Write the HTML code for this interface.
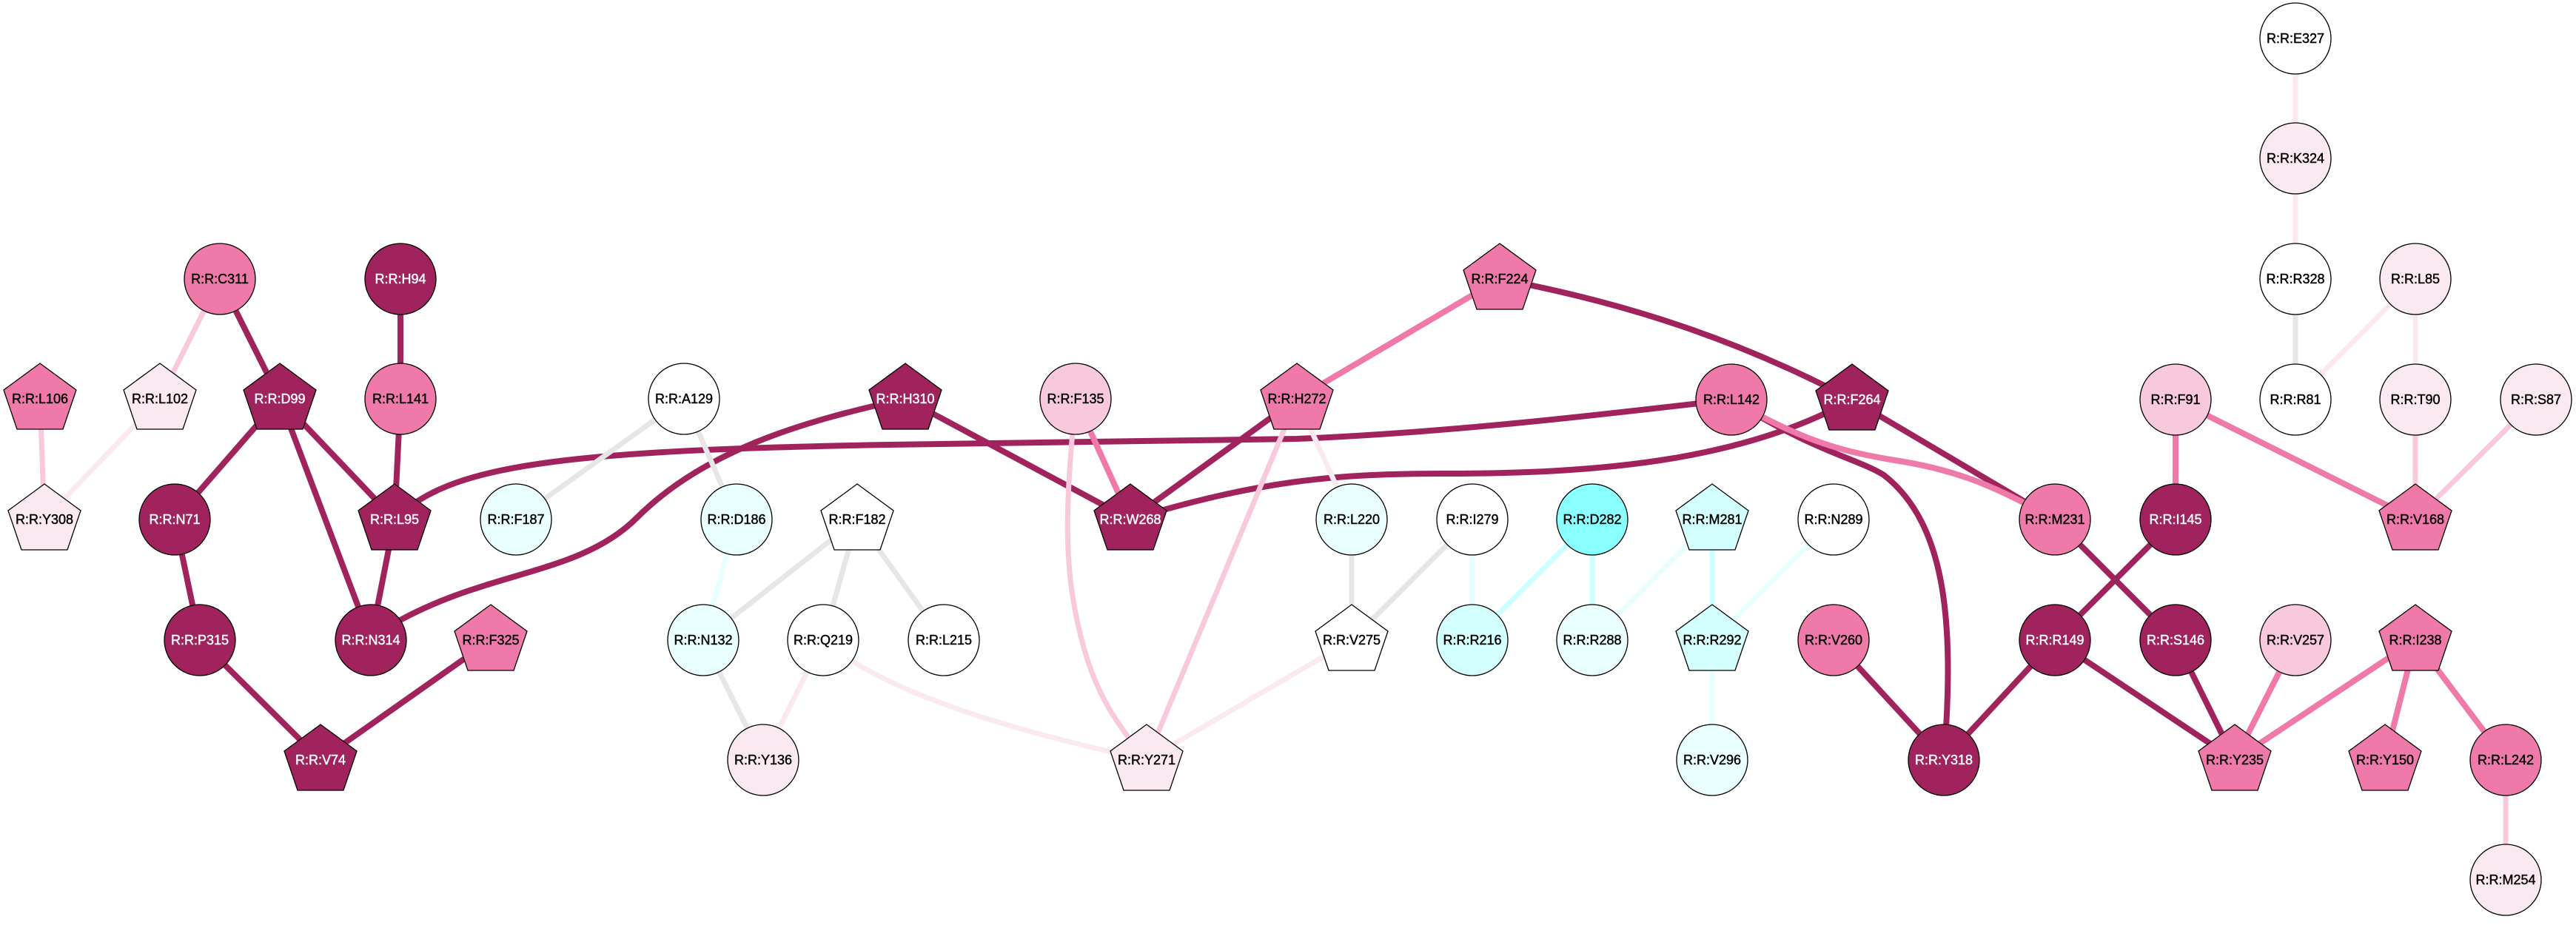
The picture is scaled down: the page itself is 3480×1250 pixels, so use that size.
<!DOCTYPE html>
<html><head><meta charset="utf-8"><style>
html,body{margin:0;padding:0;background:#fff;}
svg text{font-family:"Liberation Sans",Arial,sans-serif;font-size:18px;text-anchor:middle;dominant-baseline:central;stroke-width:0.45px;}
</style></head><body>
<svg width="3480" height="1245" viewBox="0 0 3480 1245" xmlns="http://www.w3.org/2000/svg">
<g fill="none" stroke-linecap="butt">
<g stroke="#A0235E" stroke-width="8">
<line x1="297" y1="377" x2="378" y2="539"/>
<line x1="541" y1="377" x2="541" y2="539"/>
<line x1="541" y1="539" x2="533" y2="702"/>
<line x1="378" y1="539" x2="236" y2="702"/>
<line x1="378" y1="539" x2="501" y2="865"/>
<line x1="378" y1="539" x2="533" y2="702"/>
<line x1="236" y1="702" x2="270" y2="865"/>
<line x1="533" y1="702" x2="501" y2="865"/>
<line x1="270" y1="865" x2="433" y2="1027"/>
<line x1="663" y1="865" x2="433" y2="1027"/>
<line x1="1223" y1="539" x2="1527" y2="702"/>
<line x1="1752" y1="539" x2="1527" y2="702"/>
<line x1="2502" y1="540" x2="2776" y2="702"/>
<line x1="2626" y1="1027" x2="2477" y2="865"/>
<line x1="2626" y1="1027" x2="2776" y2="865"/>
<line x1="2776" y1="865" x2="2939" y2="702"/>
<line x1="2776" y1="865" x2="3019" y2="1027"/>
<line x1="2776" y1="702" x2="2939" y2="865"/>
<line x1="2939" y1="865" x2="3019" y2="1027"/>
<path d="M 560,680 C 640,625 800,608 1200,601 L 1752,593 C 1950,585 2150,562 2339,540"/>
<path d="M 520,850 C 650,770 780,780 860,700 C 950,610 1080,570 1223,539"/>
<path d="M 2026,377 C 2200,410 2350,460 2502,540"/>
<path d="M 1527,702 C 1700,650 1800,640 1950,640 C 2150,640 2350,625 2502,540"/>
<path d="M 2339,540 C 2450,610 2510,620 2545,642 C 2632,710 2640,850 2626,1027"/>
</g>
<g stroke="#EF7AA9" stroke-width="8">
<line x1="1453" y1="539" x2="1527" y2="702"/>
<line x1="1752" y1="539" x2="2026" y2="377"/>
<line x1="2939" y1="540" x2="2939" y2="702"/>
<line x1="2939" y1="540" x2="3263" y2="702"/>
<line x1="3101" y1="865" x2="3019" y2="1027"/>
<line x1="3263" y1="865" x2="3019" y2="1027"/>
<line x1="3263" y1="865" x2="3222" y2="1027"/>
<line x1="3263" y1="865" x2="3385" y2="1027"/>
<path d="M 2339,540 C 2440,600 2500,612 2560,622 C 2650,636 2700,660 2776,702"/>
</g>
<g stroke="#F8C8DC" stroke-width="7">
<line x1="54" y1="539" x2="60" y2="702"/>
<line x1="297" y1="377" x2="216" y2="539"/>
<line x1="1752" y1="539" x2="1549" y2="1027"/>
<line x1="3263" y1="540" x2="3263" y2="702"/>
<line x1="3426" y1="540" x2="3263" y2="702"/>
<line x1="3385" y1="1027" x2="3385" y2="1189"/>
<path d="M 1453,539 C 1440,680 1435,760 1460,860 C 1480,940 1510,980 1549,1027"/>
</g>
<g stroke="#FBE9F1" stroke-width="7">
<line x1="216" y1="539" x2="60" y2="702"/>
<line x1="1752" y1="539" x2="1826" y2="702"/>
<line x1="1826" y1="865" x2="1549" y2="1027"/>
<line x1="1112" y1="865" x2="1031" y2="1027"/>
<line x1="3263" y1="377" x2="3263" y2="540"/>
<line x1="3263" y1="377" x2="3101" y2="540"/>
<line x1="3101" y1="214" x2="3101" y2="377"/>
<line x1="3101" y1="52" x2="3101" y2="214"/>
<path d="M 1112,865 C 1200,940 1380,990 1549,1027"/>
</g>
<g stroke="#E6E6E6" stroke-width="7">
<line x1="924" y1="539" x2="697" y2="702"/>
<line x1="924" y1="539" x2="995" y2="702"/>
<line x1="1158" y1="702" x2="950" y2="865"/>
<line x1="1158" y1="702" x2="1112" y2="865"/>
<line x1="1158" y1="702" x2="1275" y2="865"/>
<line x1="950" y1="865" x2="1031" y2="1027"/>
<line x1="1826" y1="702" x2="1826" y2="865"/>
<line x1="1989" y1="702" x2="1826" y2="865"/>
<line x1="3101" y1="377" x2="3101" y2="540"/>
</g>
<g stroke="#CCFFFF" stroke-width="7">
<line x1="2151" y1="702" x2="1989" y2="865"/>
<line x1="2151" y1="702" x2="2151" y2="865"/>
<line x1="2313" y1="702" x2="2313" y2="865"/>
</g>
<g stroke="#E8FFFF" stroke-width="7">
<line x1="995" y1="702" x2="950" y2="865"/>
<line x1="1989" y1="702" x2="1989" y2="865"/>
<line x1="2313" y1="702" x2="2151" y2="865"/>
<line x1="2477" y1="702" x2="2313" y2="865"/>
<line x1="2313" y1="865" x2="2313" y2="1027"/>
</g>
</g>
<defs>
<polygon id="pg" points="0,-48 49,-12 31,41 -31,41 -49,-12"/>
</defs>
<g stroke="#000" stroke-width="1.3">
<use href="#pg" x="54" y="539" fill="#EF7AA9"/>
<use href="#pg" x="216" y="539" fill="#FBE9F1"/>
<use href="#pg" x="60" y="702" fill="#FBE9F1"/>
<use href="#pg" x="378" y="539" fill="#A0235E"/>
<use href="#pg" x="533" y="702" fill="#A0235E"/>
<use href="#pg" x="433" y="1027" fill="#A0235E"/>
<use href="#pg" x="663" y="865" fill="#EF7AA9"/>
<use href="#pg" x="1223" y="539" fill="#A0235E"/>
<use href="#pg" x="1158" y="702" fill="#FFFFFF"/>
<use href="#pg" x="1527" y="702" fill="#A0235E"/>
<use href="#pg" x="1752" y="539" fill="#EF7AA9"/>
<use href="#pg" x="2026" y="377" fill="#EF7AA9"/>
<use href="#pg" x="1549" y="1027" fill="#FBE9F1"/>
<use href="#pg" x="1826" y="865" fill="#FFFFFF"/>
<use href="#pg" x="2313" y="702" fill="#D4FFFF"/>
<use href="#pg" x="2313" y="865" fill="#D4FFFF"/>
<use href="#pg" x="2502" y="540" fill="#A0235E"/>
<use href="#pg" x="3263" y="702" fill="#EF7AA9"/>
<use href="#pg" x="3019" y="1027" fill="#EF7AA9"/>
<use href="#pg" x="3263" y="865" fill="#EF7AA9"/>
<use href="#pg" x="3222" y="1027" fill="#EF7AA9"/>
<circle cx="297" cy="377" r="48" fill="#EF7AA9"/>
<circle cx="541" cy="377" r="48" fill="#A0235E"/>
<circle cx="541" cy="539" r="48" fill="#EF7AA9"/>
<circle cx="924" cy="539" r="48" fill="#FFFFFF"/>
<circle cx="236" cy="702" r="48" fill="#A0235E"/>
<circle cx="697" cy="702" r="48" fill="#EAFFFF"/>
<circle cx="995" cy="702" r="48" fill="#EAFFFF"/>
<circle cx="270" cy="865" r="48" fill="#A0235E"/>
<circle cx="501" cy="865" r="48" fill="#A0235E"/>
<circle cx="950" cy="865" r="48" fill="#EAFFFF"/>
<circle cx="1112" cy="865" r="48" fill="#FFFFFF"/>
<circle cx="1275" cy="865" r="48" fill="#FFFFFF"/>
<circle cx="1031" cy="1027" r="48" fill="#FBE9F1"/>
<circle cx="1453" cy="539" r="48" fill="#F8C8DC"/>
<circle cx="2339" cy="540" r="48" fill="#EF7AA9"/>
<circle cx="1826" cy="702" r="48" fill="#EAFFFF"/>
<circle cx="1989" cy="702" r="48" fill="#FFFFFF"/>
<circle cx="2151" cy="702" r="48" fill="#8AFFFF"/>
<circle cx="1989" cy="865" r="48" fill="#D4FFFF"/>
<circle cx="2151" cy="865" r="48" fill="#EAFFFF"/>
<circle cx="2313" cy="1027" r="48" fill="#EAFFFF"/>
<circle cx="3101" cy="52" r="48" fill="#FFFFFF"/>
<circle cx="3101" cy="214" r="48" fill="#FBE9F1"/>
<circle cx="3101" cy="377" r="48" fill="#FFFFFF"/>
<circle cx="3263" cy="377" r="48" fill="#FBE9F1"/>
<circle cx="3101" cy="540" r="48" fill="#FFFFFF"/>
<circle cx="3263" cy="540" r="48" fill="#FBE9F1"/>
<circle cx="3426" cy="540" r="48" fill="#FBE9F1"/>
<circle cx="2939" cy="540" r="48" fill="#F8C8DC"/>
<circle cx="2477" cy="702" r="48" fill="#FFFFFF"/>
<circle cx="2776" cy="702" r="48" fill="#EF7AA9"/>
<circle cx="2939" cy="702" r="48" fill="#A0235E"/>
<circle cx="2477" cy="865" r="48" fill="#EF7AA9"/>
<circle cx="2776" cy="865" r="48" fill="#A0235E"/>
<circle cx="2939" cy="865" r="48" fill="#A0235E"/>
<circle cx="3101" cy="865" r="48" fill="#F8C8DC"/>
<circle cx="2626" cy="1027" r="48" fill="#A0235E"/>
<circle cx="3385" cy="1027" r="48" fill="#EF7AA9"/>
<circle cx="3385" cy="1189" r="48" fill="#FBE9F1"/>
</g>
<g fill="#000" stroke="#000">
<text x="54" y="539">R:R:L106</text>
<text x="216" y="539">R:R:L102</text>
<text x="60" y="702">R:R:Y308</text>
<text x="663" y="865">R:R:F325</text>
<text x="1158" y="702">R:R:F182</text>
<text x="1752" y="539">R:R:H272</text>
<text x="2026" y="377">R:R:F224</text>
<text x="1549" y="1027">R:R:Y271</text>
<text x="1826" y="865">R:R:V275</text>
<text x="2313" y="702">R:R:M281</text>
<text x="2313" y="865">R:R:R292</text>
<text x="3263" y="702">R:R:V168</text>
<text x="3019" y="1027">R:R:Y235</text>
<text x="3263" y="865">R:R:I238</text>
<text x="3222" y="1027">R:R:Y150</text>
<text x="297" y="377">R:R:C311</text>
<text x="541" y="539">R:R:L141</text>
<text x="924" y="539">R:R:A129</text>
<text x="697" y="702">R:R:F187</text>
<text x="995" y="702">R:R:D186</text>
<text x="950" y="865">R:R:N132</text>
<text x="1112" y="865">R:R:Q219</text>
<text x="1275" y="865">R:R:L215</text>
<text x="1031" y="1027">R:R:Y136</text>
<text x="1453" y="539">R:R:F135</text>
<text x="2339" y="540">R:R:L142</text>
<text x="1826" y="702">R:R:L220</text>
<text x="1989" y="702">R:R:I279</text>
<text x="2151" y="702">R:R:D282</text>
<text x="1989" y="865">R:R:R216</text>
<text x="2151" y="865">R:R:R288</text>
<text x="2313" y="1027">R:R:V296</text>
<text x="3101" y="52">R:R:E327</text>
<text x="3101" y="214">R:R:K324</text>
<text x="3101" y="377">R:R:R328</text>
<text x="3263" y="377">R:R:L85</text>
<text x="3101" y="540">R:R:R81</text>
<text x="3263" y="540">R:R:T90</text>
<text x="3426" y="540">R:R:S87</text>
<text x="2939" y="540">R:R:F91</text>
<text x="2477" y="702">R:R:N289</text>
<text x="2776" y="702">R:R:M231</text>
<text x="2477" y="865">R:R:V260</text>
<text x="3101" y="865">R:R:V257</text>
<text x="3385" y="1027">R:R:L242</text>
<text x="3385" y="1189">R:R:M254</text>
</g>
<g fill="#fff" stroke="#fff">
<text x="378" y="539">R:R:D99</text>
<text x="533" y="702">R:R:L95</text>
<text x="433" y="1027">R:R:V74</text>
<text x="1223" y="539">R:R:H310</text>
<text x="1527" y="702">R:R:W268</text>
<text x="2502" y="540">R:R:F264</text>
<text x="541" y="377">R:R:H94</text>
<text x="236" y="702">R:R:N71</text>
<text x="270" y="865">R:R:P315</text>
<text x="501" y="865">R:R:N314</text>
<text x="2939" y="702">R:R:I145</text>
<text x="2776" y="865">R:R:R149</text>
<text x="2939" y="865">R:R:S146</text>
<text x="2626" y="1027">R:R:Y318</text>
</g>
</svg>
</body></html>
